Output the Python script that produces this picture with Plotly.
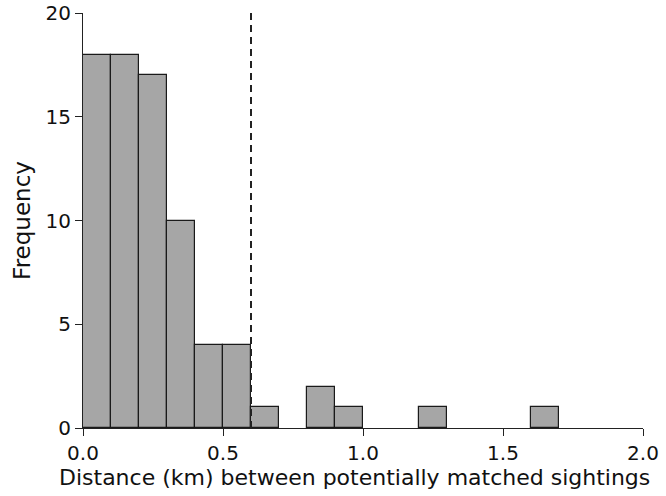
import plotly.graph_objects as go

bin_starts = [0.0, 0.1, 0.2, 0.3, 0.4, 0.5, 0.6, 0.7, 0.8, 0.9, 1.0, 1.1, 1.2, 1.3, 1.4, 1.5, 1.6, 1.7, 1.8, 1.9]
counts = [18, 18, 17, 10, 4, 4, 1, 0, 2, 1, 0, 0, 1, 0, 0, 0, 1, 0, 0, 0]
bin_width = 0.1
threshold = 0.6
x_ticks = [0.0, 0.5, 1.0, 1.5, 2.0]
x_tick_labels = ["0.0", "0.5", "1.0", "1.5", "2.0"]
y_ticks = [0, 5, 10, 15, 20]
x_title = "Distance (km) between potentially matched sightings"
y_title = "Frequency"

font_family = "DejaVu Sans, Liberation Sans, Arial, sans-serif"

xs = [s for s, c in zip(bin_starts, counts) if c > 0]
ys = [c for c in counts if c > 0]

fig = go.Figure()
fig.add_trace(go.Bar(
    x=xs, y=ys, width=bin_width, offset=0,
    marker=dict(color="#a6a6a6", line=dict(color="#1a1a1a", width=1.2)),
    hoverinfo="x+y",
))

fig.add_shape(type="line", x0=threshold, x1=threshold, y0=0, y1=20,
              xref="x", yref="y",
              line=dict(color="#222222", width=2, dash="7px,5px"))

fig.add_annotation(text=x_title, xref="paper", yref="paper",
                   x=0.4857, y=0, yshift=-35, xanchor="center", yanchor="top",
                   showarrow=False, font=dict(size=22, color="#111111"))

fig.update_layout(
    width=666, height=496,
    margin=dict(l=83, r=23, t=13, b=68),
    plot_bgcolor="white", paper_bgcolor="white",
    showlegend=False,
    bargap=0,
    font=dict(family=font_family, color="#111111", size=20),
    xaxis=dict(
        range=[0, 2.0], tickvals=x_ticks, ticktext=x_tick_labels,
        automargin=False,
        showline=True, linecolor="#222222", linewidth=1.2,
        ticks="outside", ticklen=7, tickwidth=1.2, tickcolor="#222222",
        showgrid=False, zeroline=False,
        tickfont=dict(size=20),
    ),
    yaxis=dict(
        range=[0, 20], tickvals=y_ticks,
        automargin=False,
        showline=True, linecolor="#222222", linewidth=1.2,
        ticks="outside", ticklen=7, tickwidth=1.2, tickcolor="#222222",
        showgrid=False, zeroline=False,
        title=dict(text=y_title, font=dict(size=23), standoff=8),
        tickfont=dict(size=20),
    ),
)

fig.write_html("out.html", config={"displayModeBar": False},
               post_script="document.body.style.margin='0';")
